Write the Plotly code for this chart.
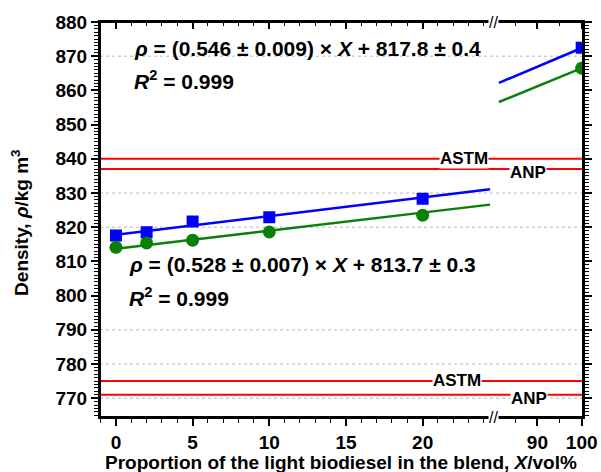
import plotly.graph_objects as go

# ---------------- data ----------------
X_low = [0, 2, 5, 10, 20]
X_high = [100]
blue_low = [817.6, 818.5, 821.7, 822.9, 828.3]
blue_high = [872.5]
green_low = [814.1, 815.4, 816.2, 818.6, 823.5]
green_high = [866.5]

fit_x_low = [0, 24.4]
fit_x_high = [81.3, 100]
blue_fit_low = [817.8, 831.1]
blue_fit_high = [862.2, 872.4]
green_fit_low = [813.7, 826.6]
green_fit_high = [856.6, 866.5]

astm_limits = [840, 775]
anp_limits = [837, 771]
grid_vals = [870, 830, 820, 790, 780, 770]

eq_blue = "<b><i>ρ</i> = (0.546 ± 0.009) × <i>X</i> + 817.8 ± 0.4</b>"
eq_green = "<b><i>ρ</i> = (0.528 ± 0.007) × <i>X</i> + 813.7 ± 0.3</b>"
r2_text = "<b><i>R</i><sup>2</sup> = 0.999</b>"

BLUE = "#0000ff"
GREEN = "#0a800a"
RED = "#ff0000"
AX = "black"
FONT = "Liberation Sans, Arial, sans-serif"

D = 0.814  # break position (fraction of plot width)

fig = go.Figure()

fig.add_trace(go.Scatter(x=fit_x_low, y=blue_fit_low, mode="lines",
                         line=dict(color=BLUE, width=2.5), xaxis="x", yaxis="y"))
fig.add_trace(go.Scatter(x=fit_x_low, y=green_fit_low, mode="lines",
                         line=dict(color=GREEN, width=2.5), xaxis="x", yaxis="y"))
fig.add_trace(go.Scatter(x=fit_x_high, y=blue_fit_high, mode="lines",
                         line=dict(color=BLUE, width=2.5), xaxis="x2", yaxis="y2"))
fig.add_trace(go.Scatter(x=fit_x_high, y=green_fit_high, mode="lines",
                         line=dict(color=GREEN, width=2.5), xaxis="x2", yaxis="y2"))
fig.add_trace(go.Scatter(x=X_low, y=blue_low, mode="markers",
                         marker=dict(symbol="square", size=12, color=BLUE), xaxis="x", yaxis="y"))
fig.add_trace(go.Scatter(x=X_low, y=green_low, mode="markers",
                         marker=dict(symbol="circle", size=13, color=GREEN), xaxis="x", yaxis="y"))
fig.add_trace(go.Scatter(x=X_high, y=blue_high, mode="markers",
                         marker=dict(symbol="square", size=12, color=BLUE), xaxis="x2", yaxis="y2"))
fig.add_trace(go.Scatter(x=X_high, y=green_high, mode="markers",
                         marker=dict(symbol="circle", size=13, color=GREEN), xaxis="x2", yaxis="y2"))
# empty traces so that the top axes (inside ticks) are drawn
fig.add_trace(go.Scatter(x=[], y=[], xaxis="x3", yaxis="y", hoverinfo="skip"))
fig.add_trace(go.Scatter(x=[], y=[], xaxis="x4", yaxis="y2", hoverinfo="skip"))

tickfont = dict(family=FONT, size=19, color="black", weight="bold")
base = dict(showline=True, linecolor=AX, linewidth=2, showgrid=False,
            zeroline=False, ticklen=7, tickcolor=AX, tickwidth=1.5,
            tickfont=tickfont)
minor_out = dict(ticks="outside", ticklen=4, tickcolor=AX, tickwidth=1, showgrid=False)
minor_in = dict(ticks="inside", ticklen=4, tickcolor=AX, tickwidth=1, showgrid=False)

yr = [764.5, 880]
xr1 = [-1.04, 24.6]
xr2 = [80, 100.3]
fig.update_layout(
    template="none",
    width=601, height=472,
    margin=dict(l=100, r=18, t=22, b=55),
    paper_bgcolor="white", plot_bgcolor="white",
    showlegend=False,
    xaxis=dict(domain=[0, D], range=xr1, anchor="y", ticks="outside",
               tickmode="linear", tick0=0, dtick=5,
               minor=dict(dtick=1, tick0=0, **minor_out), **base),
    xaxis2=dict(domain=[D, 1], range=xr2, anchor="y2", ticks="outside",
                tickmode="array", tickvals=[90, 100],
                minor=dict(tickmode="array", tickvals=[85, 95], **minor_out), **base),
    xaxis3=dict(domain=[0, D], range=xr1, anchor="y", overlaying="x", side="top",
                ticks="inside", showticklabels=False, tickmode="linear", tick0=0, dtick=5,
                minor=dict(dtick=1, tick0=0, **minor_in), **base),
    xaxis4=dict(domain=[D, 1], range=xr2, anchor="y2", overlaying="x2", side="top",
                ticks="inside", showticklabels=False, tickmode="array", tickvals=[90, 100],
                minor=dict(tickmode="array", tickvals=[85, 95], **minor_in), **base),
    yaxis=dict(domain=[0, 1], range=yr, anchor="x", side="left", ticks="outside",
               tickmode="linear", tick0=770, dtick=10,
               minor=dict(dtick=1, tick0=770, **minor_out), **base),
    yaxis2=dict(domain=[0, 1], range=yr, anchor="x2", side="right", ticks="outside",
                tickmode="linear", tick0=770, dtick=10, showticklabels=False,
                minor=dict(dtick=1, tick0=770, **minor_out), **base),
)

shapes = []
for g in grid_vals:
    shapes.append(dict(type="line", xref="paper", x0=0, x1=1, yref="y", y0=g, y1=g, opacity=1,
                       line=dict(color="#b8b8b8", width=1, dash="dot"), layer="below"))
for v in astm_limits + anp_limits:
    shapes.append(dict(type="line", xref="paper", x0=0, x1=1, yref="y", y0=v, y1=v, opacity=1,
                       line=dict(color=RED, width=2), layer="above"))
# plot frame
shapes.append(dict(type="rect", xref="paper", yref="paper", x0=0, x1=1, y0=0, y1=1, opacity=1,
                   line=dict(color=AX, width=2), fillcolor="rgba(0,0,0,0)", layer="above"))
fig.update_layout(shapes=shapes)

lab_font = dict(family=FONT, size=17, color="black", weight="bold")
ann = []
C = dict(xanchor="center", yanchor="middle", showarrow=False)
L = dict(xanchor="left", yanchor="middle", showarrow=False)
ann.append(dict(text="ASTM", xref="paper", x=0.754, yref="y", y=astm_limits[0],
                font=lab_font, bgcolor="white", borderpad=0, **C))
ann.append(dict(text="ANP", xref="paper", x=0.886, yref="y", y=anp_limits[0],
                font=lab_font, bgcolor="white", borderpad=0, yshift=-3, **C))
ann.append(dict(text="ASTM", xref="paper", x=0.739, yref="y", y=astm_limits[1],
                font=lab_font, bgcolor="white", borderpad=0, yshift=1, **C))
ann.append(dict(text="ANP", xref="paper", x=0.888, yref="y", y=anp_limits[1],
                font=lab_font, bgcolor="white", borderpad=0, yshift=-4, **C))
eq_font = dict(family=FONT, size=21, color="black")
ann.append(dict(text=eq_blue, xref="paper", x=0.066, yref="paper", y=0.934, font=eq_font, **L))
ann.append(dict(text=r2_text, xref="paper", x=0.066, yref="paper", y=0.853, font=eq_font, **L))
ann.append(dict(text=eq_green, xref="paper", x=0.056, yref="paper", y=0.385, font=eq_font, **L))
ann.append(dict(text=r2_text, xref="paper", x=0.056, yref="paper", y=0.304, font=eq_font, **L))
title_font = dict(family=FONT, size=19, color="black")
ann.append(dict(text="<b>Proportion of the light biodiesel in the blend, <i>X</i>/vol%</b>",
                xref="paper", x=0.499, yref="paper", y=-0.114, font=title_font, **C))
ann.append(dict(text="<b>Density, <i>ρ</i>/kg m<sup>3</sup></b>", textangle=-90,
                xref="paper", x=-0.166, yref="paper", y=0.491, font=title_font, **C))
brk_font = dict(family=FONT, size=16, color=AX)
ann.append(dict(text="//", xref="paper", x=D, yref="paper", y=1, font=brk_font,
                bgcolor="white", borderpad=0, **C))
ann.append(dict(text="//", xref="paper", x=D, yref="paper", y=0, font=brk_font,
                bgcolor="white", borderpad=0, **C))
fig.update_layout(annotations=ann)

fig.write_html("out.html")
